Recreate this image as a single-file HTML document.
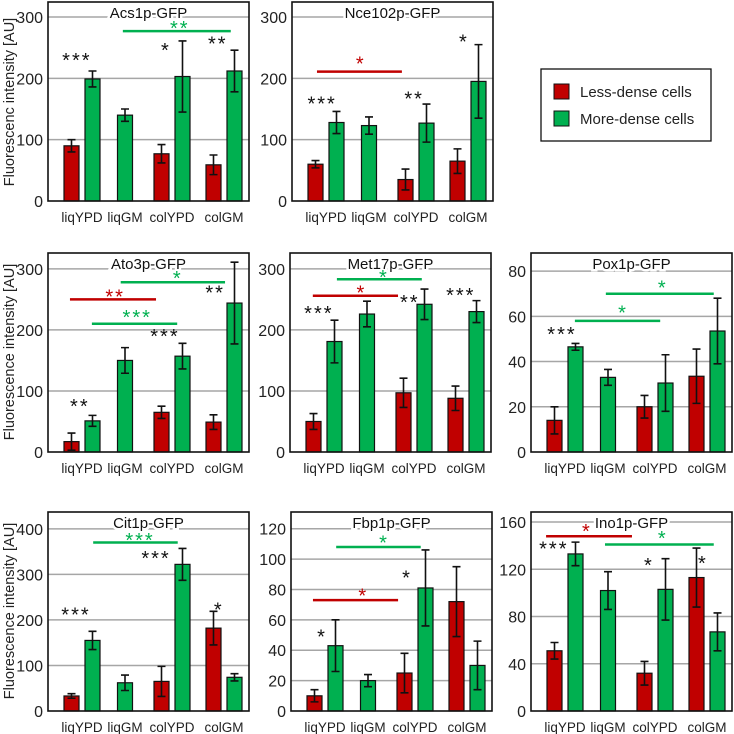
<!DOCTYPE html>
<html><head><meta charset="utf-8"><style>
html,body{margin:0;padding:0;background:#fff}
svg{display:block;font-family:"Liberation Sans",sans-serif}
</style></head><body>
<svg id="fig" width="734" height="734" viewBox="0 0 734 734" xmlns="http://www.w3.org/2000/svg"></svg>
<script>
const categories = ["liqYPD","liqGM","colYPD","colGM"];
const titles = ["Acs1p-GFP","Nce102p-GFP","Ato3p-GFP","Met17p-GFP","Pox1p-GFP","Cit1p-GFP","Fbp1p-GFP","Ino1p-GFP"];
const lessValues = [[90,null,77,59],[60,null,35,65],[17,null,65,49],[50,null,97,88],[14,null,20,33.5],[33,null,65,182],[10,null,25,72],[51,null,32,113]];
const lessErrors = [[10,0,15,16],[6,0,17,20],[14,0,10,12],[13,0,24,20],[6,0,5,12],[5,0,33,37],[4,0,13,23],[7,0,10,25]];
const moreValues = [[199,140,203,212],[128,123,127,195],[51,150,157,244],[181,226,242,230],[46.5,33,30.5,53.5],[155,62,322,74],[43,20,81,30],[133,102,103,67]];
const moreErrors = [[13,10,58,34],[18,14,31,60],[9,21,21,67],[35,21,25,18],[1.5,3.5,12.5,14.5],[20,17,35,8],[17,4,25,16],[10,16,26,16]];
const tickLabels = [[0,100,200,300],[0,100,200,300],[0,100,200,300],[0,100,200,300],[0,20,40,60,80],[0,100,200,300,400],[0,20,40,60,80,100,120],[0,40,80,120,160]];
const axisMax = [324.5,324.5,326,326,88,437,131,168.5];
// brackets: [panel, fromCat, toCat, value, label, color]
const brackets = [[0,0.95,3.13,277,"**","g"],[1,-0.21,1.7,211,"*","r"],
 [2,-0.28,1.66,250,"**","r"],[2,0.9,3.02,278,"*","g"],[2,0.23,2.1,210,"***","g"],
 [3,0.3,2.15,283,"*","g"],[3,-0.26,1.66,256,"*","r"],
 [4,0.95,3.13,70,"*","g"],[4,0.23,2.1,58,"*","g"],
 [5,0.26,2.11,370,"***","g"],
 [6,0.26,2.11,108,"*","g"],[6,-0.28,1.64,73,"*","r"],
 [7,-0.44,1.51,148,"*","r"],[7,0.93,3.13,141,"*","g"]];
// significance marks: [panel, catPos, value, label, color]
const marks = [[0,-0.12,235,"***","k"],[0,1.87,251,"*","k"],[0,2.88,262,"**","k"],[0,2.15,287,"**","g"],
 [1,-0.09,164,"***","k"],[1,1.96,172,"**","k"],[1,2.92,265,"*","k"],[1,0.81,229,"*","r"],
 [2,-0.05,80,"**","k"],[2,1.85,195,"***","k"],[2,2.83,266,"**","k"],[2,0.77,260,"**","r"],[2,2.11,290,"*","g"],[2,1.26,226,"***","g"],
 [3,-0.12,233,"***","k"],[3,1.91,251,"**","k"],[3,2.9,262,"***","k"],[3,0.87,266,"*","r"],[3,1.36,292,"*","g"],
 [4,-0.07,53.5,"***","k"],[4,2.15,74,"*","g"],[4,1.32,63,"*","g"],
 [5,-0.14,218,"***","k"],[5,1.66,343,"***","k"],[5,2.9,229,"*","k"],[5,1.32,382,"***","g"],
 [6,-0.07,51,"*","k"],[6,1.83,90,"*","k"],[6,0.89,78,"*","r"],[6,1.34,113,"*","g"],
 [7,-0.26,140,"***","k"],[7,1.87,126,"*","k"],[7,2.92,128,"*","k"],[7,0.51,155,"*","r"],[7,2.15,149,"*","g"]];

const layout = [[48,2,201],[292,2,201],[48,253,452],[290,253,452],[531,253,452],[48,512,711],[291,512,711],[531,512,711]];
const PW = 201;
const COL = {r:"#c00000",g:"#00b050",k:"#111"};
const svg = document.getElementById('fig');
const NS = "http://www.w3.org/2000/svg";
function mk(tag, attrs, parent){const e=document.createElementNS(NS,tag);for(const k in attrs)e.setAttribute(k,attrs[k]);(parent||svg).appendChild(e);return e;}
const centers=[34,77,124,176];
function catX(p,pos){const L=layout[p][0];
  if(pos<=0) return L+centers[0]+pos*43;
  if(pos>=3) return L+centers[3]+(pos-3)*52;
  const i=Math.floor(pos),f=pos-i;return L+centers[i]+f*(centers[i+1]-centers[i]);}
function yS(p,v){const [L,T,B]=layout[p];return B-(v/axisMax[p])*(B-T);}

for(let p=0;p<8;p++){
  const [L,T,B]=layout[p];
  const g=mk('g',{});
  
  
  tickLabels[p].forEach(t=>{
    const y=yS(p,t);
    if(t>0){const gl=mk('line',{x1:L,x2:L+PW,y1:y,y2:y,stroke:"#a6a6a6","stroke-width":1.5},g);
      }
    const tl=mk('text',{x:L-5,y:y+6,"text-anchor":"end","font-size":16,fill:"#222"},g);
    
    tl.textContent=t;
  });
  const tt=mk('text',{x:L+PW/2,y:T+16,"text-anchor":"middle","font-size":15,fill:"#111",stroke:"#fff","stroke-width":5,"paint-order":"stroke"},g);
  
  tt.textContent=titles[p];
  categories.forEach((c,i)=>{
    const cx=L+centers[i];
    const lv=lessValues[p][i], mv=moreValues[p][i];
    const bars=[];
    if(lv!==null){bars.push([cx-18,lv,lessErrors[p][i],'r']);bars.push([cx+3,mv,moreErrors[p][i],'g']);}
    else bars.push([cx-7.5,mv,moreErrors[p][i],'g']);
    bars.forEach(([x,v,e,s])=>{
      const y=yS(p,v);
      const b=mk('rect',{x:x,y:y,width:15,height:B-y,fill:COL[s],stroke:"#111","stroke-width":1.2},g);
      
      
      const xc=x+7.5,y1=yS(p,v+e),y2=yS(p,v-e);
      const eb=mk('path',{d:`M${xc} ${y1}V${y2}M${xc-4} ${y1}H${xc+4}M${xc-4} ${y2}H${xc+4}`,stroke:"#111","stroke-width":1.6,fill:"none"},g);
      
    });
    const cl=mk('text',{x:cx,y:B+21,"text-anchor":"middle","font-size":13.5,fill:"#222"},g);
    
    cl.textContent=c;
  });
  const box=mk('rect',{x:L,y:T,width:PW,height:B-T,fill:"none",stroke:"#111","stroke-width":1.6},g);
  
}
brackets.forEach(([p,a,b,v,lab,c])=>{
  const y=yS(p,v);
  const l=mk('line',{x1:catX(p,a),x2:catX(p,b),y1:y,y2:y,stroke:COL[c],"stroke-width":2.5});
  
});
marks.forEach(([p,pos,v,lab,c])=>{
  const t=mk('text',{x:catX(p,pos),y:yS(p,v)+10,"text-anchor":"middle","font-size":20,fill:COL[c],"letter-spacing":2});
  
  t.textContent=lab;
});
[[102,"Fluorescenc intensity [AU]"],[352,"Fluorescence intensity [AU]"],[611,"Fluorescence intensity [AU]"]].forEach(([cy,s])=>{
  const t=mk('text',{x:0,y:0,transform:`translate(14 ${cy}) rotate(-90)`,"text-anchor":"middle","font-size":14.5,fill:"#222"});
  
  t.textContent=s;
});
const lg=mk('g',{});

mk('rect',{x:541,y:69,width:170,height:72,fill:"#fff",stroke:"#111","stroke-width":1.3},lg);
[["r","Less-dense cells",84],["g","More-dense cells",111]].forEach(([c,s,y])=>{
  const e=mk('g',{},lg);
  
  mk('rect',{x:554,y:y,width:15,height:15,fill:COL[c],stroke:"#111","stroke-width":1},e);
  const t=mk('text',{x:580,y:y+13,"font-size":15,fill:"#222"},e);
  t.textContent=s;
});
</script>
</body></html>
